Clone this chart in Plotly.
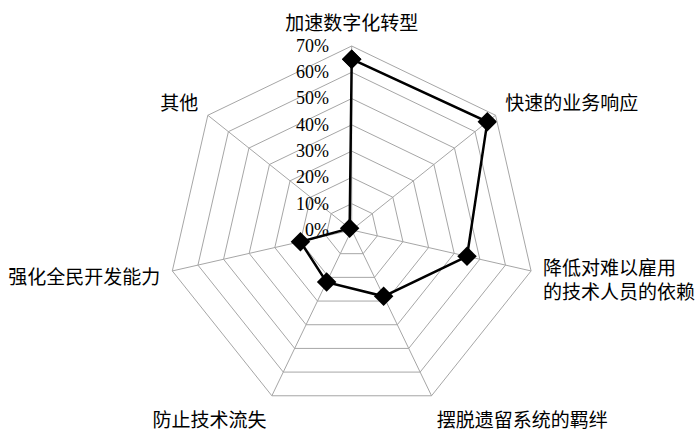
import plotly.graph_objects as go

categories = ["加速数字化转型", "快速的业务响应", "降低对难以雇用<br>的技术人员的依赖",
              "摆脱遗留系统的羁绊", "防止技术流失", "强化全民开发能力", "其他"]
values = [65, 66, 45, 28, 22, 20, 1]
tick_vals = [0, 10, 20, 30, 40, 50, 60, 70]
tick_text = ["0%", "10%", "20%", "30%", "40%", "50%", "60%", "70%"]

font_family = "Liberation Serif, Noto Sans CJK SC"

fig = go.Figure()
fig.add_trace(go.Scatterpolar(
    r=values + values[:1],
    theta=categories + categories[:1],
    mode="lines+markers",
    line=dict(color="black", width=2.5),
    marker=dict(symbol="diamond", size=15, color="black"),
    showlegend=False,
))

cx, cy, R = 351.7, 230.0, 184.0
W, H = 700, 430
fig.update_layout(
    width=W, height=H,
    margin=dict(l=0, r=0, t=0, b=0),
    paper_bgcolor="white",
    plot_bgcolor="white",
    font=dict(family=font_family, size=19, color="black"),
    polar=dict(
        domain=dict(x=[(cx - R) / W, (cx + R) / W], y=[(H - cy - R) / H, (H - cy + R) / H]),
        bgcolor="white",
        gridshape="linear",
        angularaxis=dict(
            rotation=90, direction="clockwise",
            linecolor="#a6a6a6", linewidth=1,
            gridcolor="#a6a6a6", gridwidth=1,
            ticks="outside", ticklen=8, tickcolor="rgba(0,0,0,0)",
            tickfont=dict(family=font_family, size=19, color="black"),
        ),
        radialaxis=dict(
            range=[0, 70], angle=90, tickangle=90,
            tickvals=tick_vals, ticktext=tick_text,
            showline=False,
            ticks="outside", ticklen=16, tickcolor="rgba(0,0,0,0)",
            gridcolor="#a6a6a6", gridwidth=1,
            side="counterclockwise",
            tickfont=dict(family=font_family, size=18, color="black"),
        ),
    ),
)

fig.write_html("out.html")
